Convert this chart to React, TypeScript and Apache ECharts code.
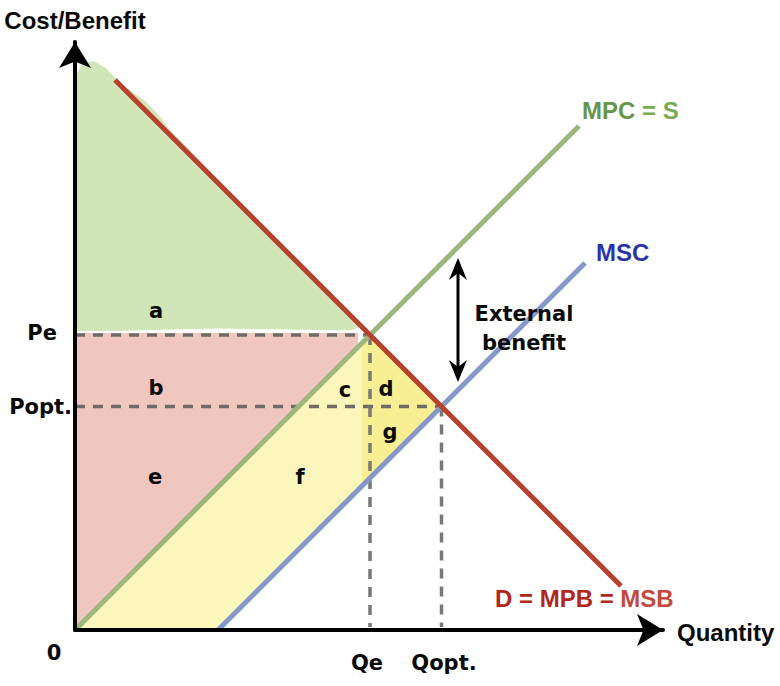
import { useEffect, useRef } from 'react';
import * as echarts from 'echarts';

// ---- economic values (data units) ----
const Pe = 29.5;
const Qe = 29.5;
const Popt = 22.35;
const Qopt = 36.65;
const demand = [[4, 55], [54.6, 4.4]]; // D = MPB = MSB
const mpc = [[0, 0], [50.4, 50.4]]; // MPC = S
const msc = [[14.3, 0], [51, 36.7]]; // MSC
const greenEdge = [
  [0, 29.9], [0, 55.2], [0.7, 56.7], [1.9, 56.9], [3.1, 56.2], [4.6, 54.6],
  [6.9, 53.0], [8.2, 51.7], [9.5, 50.0], [28.6, 30.3], [27.5, 29.95], [14, 30.15], [4, 29.9],
];
const pinkArea = [[0, 0.2], [0, 29.7], [Qe - 1.2, 29.7], [Qe - 1.2, Qe - 1.4]];
const yellowArea = [[0, 0], [Qe, Pe], [Qopt, Popt], [14.3, 0]];
const yellowStrong = [[Qe - 0.8, Pe - 0.7], [Qe, Pe], [Qopt, Popt], [Qe - 0.8, Qe - 0.8 - 14.3]];
const regionLetters = ['a', 'b', 'c', 'd', 'e', 'f', 'g'];
const letterX = [8.1, 8.1, 27.0, 31.1, 8.0, 22.5, 31.5];
const letterY = [31.9, 24.2, 24.0, 24.1, 15.3, 15.3, 19.8];
const externalArrow = [[38.3, 37.2], [38.3, 24.8]];

const FONT_H = '"Liberation Sans", Arial, sans-serif';
const FONT_G = '"DejaVu Sans", sans-serif';

type TextItem = {
  x: number; y: number; text: string; font: string; color?: string;
  align?: string; lineHeight?: number; rich?: any;
};

const texts: TextItem[] = [
  { x: 0, y: 61, text: 'Cost/Benefit', font: `bold 24px ${FONT_H}`, align: 'center' },
  { x: 60.2, y: -0.2, text: 'Quantity', font: `bold 24px ${FONT_H}`, align: 'left' },
  { x: -2.1, y: -2.3, text: '0', font: `bold 21px ${FONT_G}`, align: 'center' },
  { x: -1.8, y: Pe + 0.2, text: 'Pe', font: `bold 21px ${FONT_G}`, align: 'right' },
  { x: -0.3, y: Popt, text: 'Popt.', font: `bold 21px ${FONT_G}`, align: 'right' },
  { x: Qe - 0.3, y: -3.3, text: 'Qe', font: `bold 21px ${FONT_G}`, align: 'center' },
  { x: Qopt + 0.25, y: -3.3, text: 'Qopt.', font: `bold 21px ${FONT_G}`, align: 'center' },
  { x: 44.9, y: 30.15, text: 'External\nbenefit', font: `bold 21px ${FONT_G}`, align: 'center', lineHeight: 29 },
  {
    x: 50.7, y: 52.0, text: '{a|MPC} {b|= S}', font: `bold 24px ${FONT_H}`, align: 'left',
    rich: {
      a: { font: `bold 24px ${FONT_H}`, fill: '#679549' },
      b: { font: `bold 24px ${FONT_H}`, fill: '#79ab52' },
    },
  },
  { x: 52.1, y: 37.8, text: 'MSC', font: `bold 24px ${FONT_H}`, color: '#2b34a6', align: 'left' },
  {
    x: 42.0, y: 3.2, text: '{a|D = MPB = }{b|MSB}', font: `bold 24px ${FONT_H}`, align: 'left',
    rich: {
      a: { font: `bold 24px ${FONT_H}`, fill: '#b3261c' },
      b: { font: `bold 24px ${FONT_H}`, fill: '#c24a40' },
    },
  },
  ...regionLetters.map((l, i) => ({
    x: letterX[i], y: letterY[i], text: l, font: `bold 21px ${FONT_G}`, align: 'center',
  })),
];

function polySeries(pts: number[][], color: string, z: number) {
  return {
    type: 'custom',
    z,
    silent: true,
    data: [[0, 0]],
    renderItem: (_p: any, api: any) => ({
      type: 'polygon',
      shape: { points: pts.map((p) => api.coord(p)) },
      style: { fill: color },
    }),
  };
}

function lineSeries(data: number[][], color: string, width: number, z: number, dashed = false) {
  return {
    type: 'line',
    z,
    silent: true,
    data,
    symbol: 'none',
    showSymbol: false,
    lineStyle: { color, width, type: dashed ? [10, 8] : 'solid', cap: 'butt' },
  };
}

export default function App() {
  const ref = useRef<HTMLDivElement>(null);
  useEffect(() => {
    if (!ref.current) return;
    const chart = echarts.init(ref.current, undefined, { renderer: 'svg' });
    const axisCommon = {
      type: 'value',
      min: 0,
      max: 58.8,
      z: 10,
      axisLine: {
        show: true,
        symbol: ['none', 'arrow'],
        symbolSize: [24, 26],
        lineStyle: { color: '#000', width: 4 },
      },
      axisTick: { show: false },
      axisLabel: { show: false },
      splitLine: { show: false },
    };
    const option: any = {
      animation: false,
      grid: { left: 75, top: 42, width: 588, height: 588 },
      xAxis: { ...axisCommon },
      yAxis: { ...axisCommon },
      series: [
        polySeries(greenEdge, '#d1e6b8', 1),
        polySeries(pinkArea, '#efc7bf', 1),
        polySeries(yellowArea, '#fbf7bc', 1),
        polySeries(yellowStrong, '#f8ee93', 1),
        lineSeries([[0, Pe], [Qe - 0.3, Pe]], '#716b67', 3.5, 3, true),
        lineSeries([[0, Popt], [Qopt, Popt]], '#716b67', 3.5, 3, true),
        lineSeries([[Qe, Pe], [Qe, 0.3]], '#7a7876', 3.5, 3, true),
        lineSeries([[Qopt, Popt], [Qopt, 0.3]], '#7a7876', 3.5, 3, true),
        lineSeries(mpc, '#9cb67e', 5, 4),
        lineSeries(msc, '#8596c8', 5, 4),
        lineSeries(demand, '#b8412c', 5, 5),
        {
          type: 'custom',
          z: 6,
          silent: true,
          data: [[0, 0]],
          renderItem: (_p: any, api: any) => {
            const a = api.coord(externalArrow[0]);
            const b = api.coord(externalArrow[1]);
            const hw = 9;
            const hl = 22;
            const notch = 15;
            return {
              type: 'group',
              children: [
                {
                  type: 'line',
                  shape: { x1: a[0], y1: a[1] + notch, x2: b[0], y2: b[1] - notch },
                  style: { stroke: '#000', lineWidth: 3 },
                },
                {
                  type: 'polygon',
                  shape: { points: [[a[0], a[1]], [a[0] + hw, a[1] + hl], [a[0], a[1] + notch], [a[0] - hw, a[1] + hl]] },
                  style: { fill: '#000' },
                },
                {
                  type: 'polygon',
                  shape: { points: [[b[0], b[1]], [b[0] + hw, b[1] - hl], [b[0], b[1] - notch], [b[0] - hw, b[1] - hl]] },
                  style: { fill: '#000' },
                },
              ],
            };
          },
        },
        {
          type: 'custom',
          z: 7,
          silent: true,
          data: texts.map((t) => [t.x, t.y]),
          renderItem: (params: any, api: any) => {
            const t = texts[params.dataIndex];
            const p = api.coord([api.value(0), api.value(1)]);
            return {
              type: 'text',
              x: p[0],
              y: p[1],
              style: {
                text: t.text,
                font: t.font,
                fill: t.color || '#0a0a0a',
                align: t.align || 'center',
                verticalAlign: 'middle',
                lineHeight: t.lineHeight,
                rich: t.rich,
              },
            };
          },
        },
      ],
    };
    chart.setOption(option);
    return () => chart.dispose();
  }, []);
  return <div ref={ref} style={{ width: 780, height: 686, position: 'absolute', left: 0, top: 0 }} />;
}
